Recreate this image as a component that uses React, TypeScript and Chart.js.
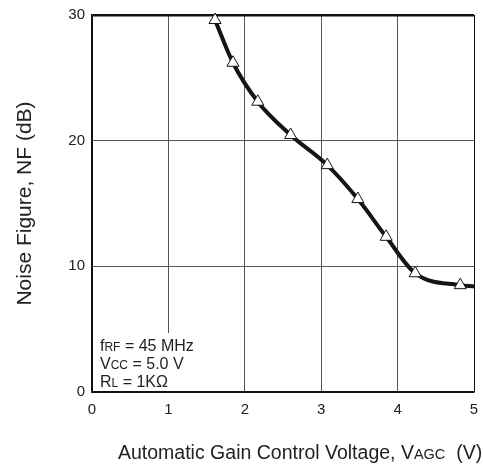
import React, { useEffect, useRef } from "react";
import { Chart, registerables } from "chart.js";

Chart.register(...registerables);

const xValues = [1.61, 1.845, 2.17, 2.6, 3.08, 3.48, 3.85, 4.23, 4.82, 5.0];
const nfValues = [29.6, 26.2, 23.1, 20.45, 18.05, 15.35, 12.35, 9.45, 8.5, 8.4];
const markerShown = [true, true, true, true, true, true, true, true, true, false];
const xTicks = [0, 1, 2, 3, 4, 5];
const yTicks = [0, 10, 20, 30];
const yTitle = "Noise Figure, NF (dB)";
const xTitleParts = [
  { t: "Automatic Gain Control Voltage, V", small: false },
  { t: "AGC", small: true },
  { t: "  (V)", small: false },
];
const noteLines = [
  [{ t: "f", small: false }, { t: "RF", small: true }, { t: " = 45 MHz", small: false }],
  [{ t: "V", small: false }, { t: "CC", small: true }, { t: " = 5.0 V", small: false }],
  [{ t: "R", small: false }, { t: "L", small: true }, { t: " = 1KΩ", small: false }],
];

const FONT = "'Liberation Sans', Arial, Helvetica, sans-serif";

function drawParts(ctx: CanvasRenderingContext2D, parts: { t: string; small: boolean }[], x: number, y: number, big: number, small: number) {
  let cx = x;
  for (const p of parts) {
    ctx.font = `${p.small ? small : big}px ${FONT}`;
    ctx.fillText(p.t, cx, y);
    cx += ctx.measureText(p.t).width;
  }
}

export default function App() {
  const ref = useRef<HTMLCanvasElement | null>(null);
  useEffect(() => {
    document.body.style.margin = "0";
    const canvas = ref.current!;
    const textPlugin = {
      id: "texts",
      afterDraw(chart: any) {
        const ctx = chart.ctx as CanvasRenderingContext2D;
        const ca = chart.chartArea;
        ctx.save();
        // annotation box
        ctx.fillStyle = "#ffffff";
        ctx.fillRect(ca.left + 1.5, 333, 112, ca.bottom - 333 - 1);
        ctx.fillStyle = "#222";
        ctx.textBaseline = "alphabetic";
        ctx.textAlign = "left";
        const baselines = [351, 369, 387];
        noteLines.forEach((ln, i) => drawParts(ctx, ln, 100, baselines[i], 16, 12));
        // x title
        drawParts(ctx, xTitleParts, 118, 459, 19.5, 14.5);
        // y title
        ctx.translate(31, (ca.top + ca.bottom) / 2);
        ctx.rotate(-Math.PI / 2);
        ctx.font = `21px ${FONT}`;
        ctx.textAlign = "center";
        ctx.fillText(yTitle, 0, 0);
        ctx.restore();
      },
    };
    const chart = new Chart(canvas, {
      type: "line",
      data: {
        datasets: [
          {
            data: xValues.map((x, i) => ({ x, y: nfValues[i] })),
            borderColor: "#151515",
            borderWidth: 4,
            cubicInterpolationMode: "monotone",
            pointStyle: "triangle",
            pointRadius: markerShown.map((m) => (m ? 7 : 0)),
            pointBackgroundColor: "#ffffff",
            pointBorderColor: "#151515",
            pointBorderWidth: 1,
            clip: false as any,
          },
        ],
      },
      options: {
        animation: false,
        responsive: false,
        layout: { padding: { top: 15, right: 9, left: 0, bottom: 0 } },
        plugins: { legend: { display: false }, tooltip: { enabled: false } },
        scales: {
          x: {
            type: "linear",
            min: 0,
            max: 5,
            afterBuildTicks: (s: any) => {
              s.ticks = xTicks.map((v) => ({ value: v }));
            },
            afterFit: (s: any) => {
              s.height = 77;
              s.paddingLeft = 0;
              s.paddingRight = 0;
            },
            ticks: {
              color: "#222",
              font: { family: FONT, size: 15 },
              padding: 9,
              maxRotation: 0,
            },
            grid: {
              drawTicks: false,
              color: (c: any) => (c.tick && (c.tick.value === 0 || c.tick.value === 5) ? "#111" : "#555"),
              lineWidth: 1,
            },
            border: { display: true, color: "#111", width: 1.5 },
          },
          y: {
            type: "linear",
            min: 0,
            max: 30,
            afterBuildTicks: (s: any) => {
              s.ticks = yTicks.map((v) => ({ value: v }));
            },
            afterFit: (s: any) => {
              s.width = 92;
              s.paddingTop = 0;
              s.paddingBottom = 0;
            },
            ticks: {
              color: "#222",
              font: { family: FONT, size: 15 },
              padding: 7,
            },
            grid: {
              drawTicks: false,
              color: (c: any) => (c.tick && (c.tick.value === 0 || c.tick.value === 30) ? "#111" : "#555"),
              lineWidth: (c: any) => (c.tick && c.tick.value === 30 ? 2.5 : 1),
            },
            border: { display: true, color: "#111", width: 1.5 },
          },
        },
      },
      plugins: [textPlugin],
    });
    return () => chart.destroy();
  }, []);
  return (
    <div style={{ width: 483, height: 469 }}>
      <canvas ref={ref} width={483} height={469} style={{ display: "block" }} />
    </div>
  );
}
